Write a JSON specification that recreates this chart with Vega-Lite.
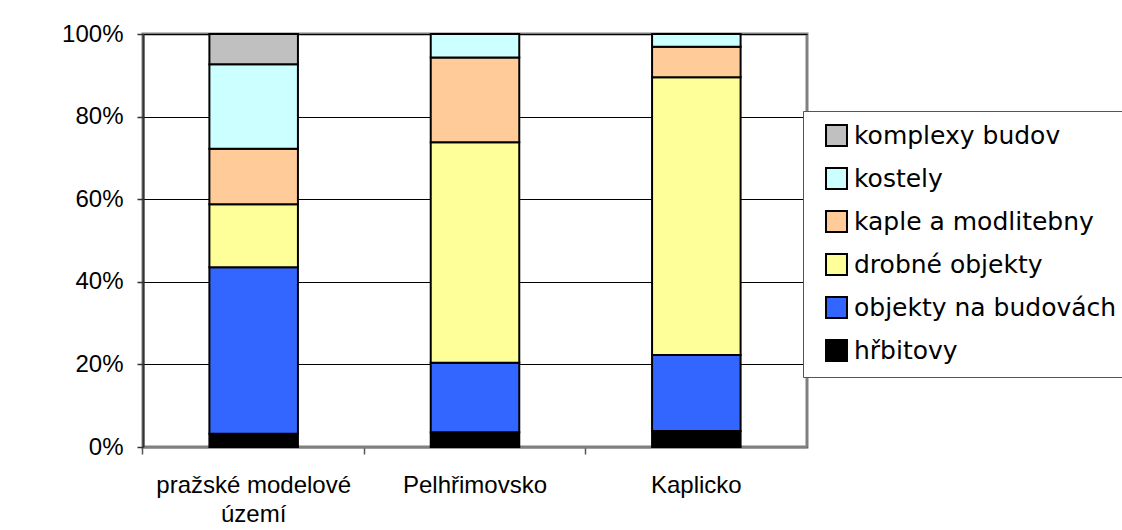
{
  "$schema": "https://vega.github.io/schema/vega-lite/v6.json",
  "width": 664,
  "height": 413,
  "autosize": {"type": "none"},
  "padding": {"left": 143, "top": 34, "right": 315, "bottom": 83},
  "background": "white",
  "config": {
    "view": {"stroke": "#808080", "strokeWidth": 3},
    "font": "Liberation Sans"
  },
  "data": {
    "values": [
      {"oblast": "pražské modelové území", "kategorie": "hřbitovy", "poradi": 1, "podil": 3.2},
      {"oblast": "pražské modelové území", "kategorie": "objekty na budovách", "poradi": 2, "podil": 40.3},
      {"oblast": "pražské modelové území", "kategorie": "drobné objekty", "poradi": 3, "podil": 15.3},
      {"oblast": "pražské modelové území", "kategorie": "kaple a modlitebny", "poradi": 4, "podil": 13.4},
      {"oblast": "pražské modelové území", "kategorie": "kostely", "poradi": 5, "podil": 20.5},
      {"oblast": "pražské modelové území", "kategorie": "komplexy budov", "poradi": 6, "podil": 7.3},
      {"oblast": "Pelhřimovsko", "kategorie": "hřbitovy", "poradi": 1, "podil": 3.6},
      {"oblast": "Pelhřimovsko", "kategorie": "objekty na budovách", "poradi": 2, "podil": 16.8},
      {"oblast": "Pelhřimovsko", "kategorie": "drobné objekty", "poradi": 3, "podil": 53.4},
      {"oblast": "Pelhřimovsko", "kategorie": "kaple a modlitebny", "poradi": 4, "podil": 20.5},
      {"oblast": "Pelhřimovsko", "kategorie": "kostely", "poradi": 5, "podil": 5.7},
      {"oblast": "Kaplicko", "kategorie": "hřbitovy", "poradi": 1, "podil": 3.9},
      {"oblast": "Kaplicko", "kategorie": "objekty na budovách", "poradi": 2, "podil": 18.4},
      {"oblast": "Kaplicko", "kategorie": "drobné objekty", "poradi": 3, "podil": 67.2},
      {"oblast": "Kaplicko", "kategorie": "kaple a modlitebny", "poradi": 4, "podil": 7.4},
      {"oblast": "Kaplicko", "kategorie": "kostely", "poradi": 5, "podil": 3.1}
    ]
  },
  "layer": [
    {
      "mark": {"type": "bar", "stroke": "black", "strokeWidth": 2},
      "encoding": {
        "x": {
          "field": "oblast",
          "type": "nominal",
          "sort": ["pražské modelové území", "Pelhřimovsko", "Kaplicko"],
          "scale": {"paddingInner": 0.6, "paddingOuter": 0.3},
          "axis": {
            "title": null,
            "orient": "bottom",
            "labelAngle": 0,
            "ticks": false,
            "domain": false,
            "grid": false,
            "labelFont": "Liberation Sans",
            "labelFontSize": 24,
            "labelColor": "black",
            "labelPadding": 26,
            "labelLineHeight": 29,
            "labelLimit": 400,
            "labelExpr": "datum.label == 'pražské modelové území' ? ['pražské modelové', 'území'] : datum.label"
          }
        },
        "y": {
          "field": "podil",
          "type": "quantitative",
          "stack": "normalize",
          "scale": {"domain": [0, 1]},
          "axis": {
            "title": null,
            "values": [0, 0.2, 0.4, 0.6, 0.8, 1],
            "format": ".0%",
            "grid": true,
            "gridColor": "black",
            "gridWidth": 1,
            "domainColor": "#333333",
            "domainWidth": 2,
            "tickColor": "#333333",
            "tickSize": 6,
            "tickWidth": 1.5,
            "labelFont": "Liberation Sans",
            "labelFontSize": 24,
            "labelColor": "black",
            "labelPadding": 14
          }
        },
        "color": {
          "field": "kategorie",
          "type": "nominal",
          "scale": {
            "domain": ["komplexy budov", "kostely", "kaple a modlitebny", "drobné objekty", "objekty na budovách", "hřbitovy"],
            "range": ["#C0C0C0", "#CCFFFF", "#FFCC99", "#FFFF99", "#3366FF", "#000000"]
          },
          "legend": {
            "title": null,
            "orient": "none",
            "legendX": 660,
            "legendY": 77,
            "strokeColor": "#555555",
            "fillColor": "white",
            "padding": 12,
            "symbolType": "square",
            "symbolSize": 440,
            "symbolStrokeColor": "black",
            "symbolStrokeWidth": 2,
            "symbolOpacity": 1,
            "symbolOffset": 9,
            "labelFont": "DejaVu Sans",
            "labelFontSize": 25,
            "labelColor": "black",
            "labelOffset": 5,
            "rowPadding": 14,
            "labelLimit": 400
          }
        },
        "order": {"field": "poradi", "type": "quantitative"}
      }
    },
    {
      "mark": {"type": "rule", "opacity": 0},
      "encoding": {
        "x": {
          "field": "oblast",
          "type": "nominal",
          "sort": ["pražské modelové území", "Pelhřimovsko", "Kaplicko"],
          "axis": {
            "title": null,
            "orient": "bottom",
            "labels": false,
            "grid": false,
            "bandPosition": -0.75,
            "ticks": true,
            "tickSize": 7,
            "tickColor": "#555555",
            "tickWidth": 1.5,
            "domain": true,
            "domainColor": "#808080",
            "domainWidth": 2
          }
        }
      }
    }
  ],
  "resolve": {"axis": {"x": "independent"}}
}
